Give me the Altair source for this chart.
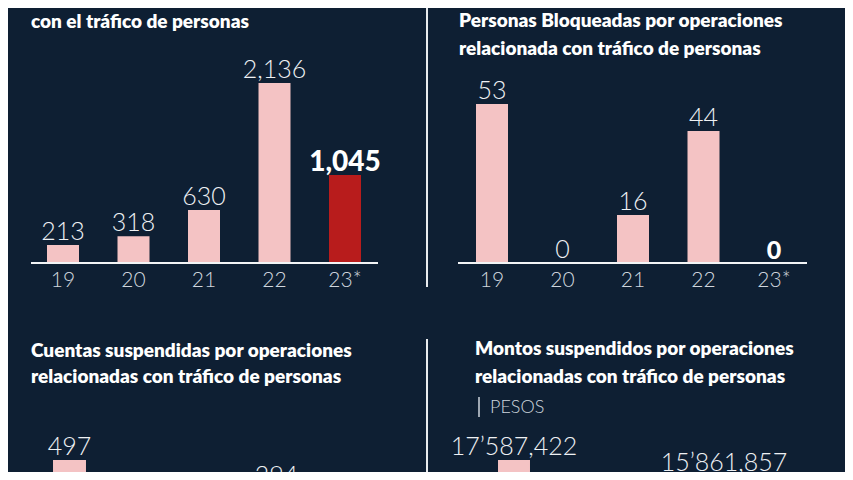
import altair as alt
import pandas as pd

BG = "#0e1f33"
PINK = "#f4c3c4"
RED = "#b81c1c"
TXT = "#eef1f4"
AXT = "#cfd6de"
TITLE_FONT = "Lato, 'Open Sans', sans-serif"
LIGHT_FONT = "Lato, 'Open Sans', sans-serif"
BOLD_FONT = "Lato, 'Open Sans', sans-serif"

years = ["19", "20", "21", "22", "23*"]

# Panel 1: reportes
rep_years = ["19", "20", "21", "22", "23*"]
rep_values = [213, 318, 630, 2136, 1045]
rep_kind = ["n", "n", "n", "n", "h"]
rep_title = ["con el tráfico de personas"]

# Panel 2: personas bloqueadas
blo_years = ["19", "20", "21", "22", "23*"]
blo_values = [53, 0, 16, 44, 0]
blo_kind = ["n", "n", "n", "n", "h"]
blo_title = ["Personas Bloqueadas por operaciones", "relacionada con tráfico de personas"]

# Panel 3: cuentas suspendidas (only visible bars)
cue_years = ["19", "22"]
cue_values = [497, 294]
cue_kind = ["n", "n"]
cue_title = ["Cuentas suspendidas por operaciones", "relacionadas con tráfico de personas"]

# Panel 4: montos suspendidos (only visible bars)
mon_years = ["19", "22"]
mon_values = [17587422, 15861857]
mon_kind = ["n", "n"]
mon_title = ["Montos suspendidos por operaciones", "relacionadas con tráfico de personas"]
mon_unit = "PESOS"


def fmt_plain(v):
    return f"{v:,}"


def fmt_money(v):
    parts = f"{v:,}".split(",")
    if len(parts) > 2:
        return parts[0] + "\u2019" + ",".join(parts[1:])
    return ",".join(parts)


def panel(yrs, vals, kinds, fmt, width, height, x_range, pad_inner, y_max, y_range,
          base_x, axis_y, title_lines, title_x, title_y0, line_h, hl_size,
          divider=None, show_axis=True):
    df = pd.DataFrame({"year": yrs, "value": vals, "kind": kinds,
                       "label": [fmt(v) for v in vals]})
    xenc = alt.X("year:N", sort=years,
                 scale=alt.Scale(domain=years, range=x_range, paddingInner=pad_inner,
                                 paddingOuter=pad_inner / 2),
                 axis=None)
    yenc = alt.Y("value:Q", scale=alt.Scale(domain=[0, y_max], range=y_range, nice=False),
                 axis=None)
    base = alt.Chart(df)
    layers = []
    bars = base.mark_bar(clip=True).encode(
        x=xenc, y=yenc,
        color=alt.Color("kind:N", scale=alt.Scale(domain=["n", "h"], range=[PINK, RED]),
                        legend=None),
    )
    layers.append(bars)
    lab_n = base.transform_filter(alt.datum.kind == "n").mark_text(
        clip=True, font=LIGHT_FONT, fontWeight=300, fontSize=25, color=TXT,
        baseline="alphabetic", dy=-5,
    ).encode(x=xenc, y=yenc, text="label:N")
    layers.append(lab_n)
    lab_h = base.transform_filter(alt.datum.kind == "h").mark_text(
        clip=True, font=BOLD_FONT, fontWeight=900, fontSize=hl_size, color="#ffffff",
        baseline="alphabetic", dy=-4,
    ).encode(x=xenc, y=yenc, text="label:N")
    layers.append(lab_h)
    rule = base.mark_rule(clip=True, color="#f2f4f6", strokeWidth=2).encode(
        x=alt.value(base_x[0]), x2=alt.value(base_x[1]), y=alt.datum(0)
    )
    layers.append(rule)
    if show_axis:
        ax = alt.Chart(pd.DataFrame({"year": years})).mark_text(
            clip=True, font=LIGHT_FONT, fontWeight=300, fontSize=21, color=AXT,
            baseline="alphabetic",
        ).encode(x=xenc, y=alt.value(axis_y), text="year:N")
        layers.append(ax)
    for i, line in enumerate(title_lines):
        t = alt.Chart(pd.DataFrame({"t": [line]})).mark_text(
            clip=True, font=TITLE_FONT, fontWeight=800, fontSize=19, color="#ffffff",
            align="left", baseline="alphabetic",
        ).encode(x=alt.value(title_x), y=alt.value(title_y0 + i * line_h), text="t:N")
        layers.append(t)
    if divider is not None:
        d = alt.Chart(pd.DataFrame({"a": [0]})).mark_rule(
            clip=True, color="#e8ebee", strokeWidth=2).encode(
            x=alt.value(divider[0]), y=alt.value(divider[1]), y2=alt.value(divider[2])
        )
        layers.append(d)
    return alt.layer(*layers).properties(width=width, height=height)


TOP_H = 292
BOT_H = 172
LEFT_W = 420
RIGHT_W = 417

tl = panel(rep_years, rep_values, rep_kind, fmt_plain, LEFT_W, TOP_H,
           [19.75, 372.25], 0.546, 2136, [255, 75],
           (23, 370), 279, rep_title, 23, 20, 28, 28,
           divider=(419, 0, 279))

tr = panel(blo_years, blo_values, blo_kind, fmt_plain, RIGHT_W, TOP_H,
           [28.75, 381.25], 0.546, 53, [255, 96],
           (30, 379), 279, blo_title, 31, 19, 28, 25)

bl = panel(cue_years, cue_values, cue_kind, fmt_plain, LEFT_W, BOT_H,
           [27, 372], 0.522, 497, [231, 160],
           (23, 370), 400, cue_title, 23, 57, 26, 28,
           divider=(419, 39, BOT_H), show_axis=False)

br_core = panel(mon_years, mon_values, mon_kind, fmt_money, RIGHT_W, BOT_H,
                [51, 401], 0.543, 17587422, [323, 160],
                (30, 400), 400, mon_title, 47, 55, 28, 28, show_axis=False)

unit_txt = alt.Chart(pd.DataFrame({"t": [mon_unit]})).mark_text(
    clip=True, font=LIGHT_FONT, fontWeight=300, fontSize=18, color=AXT, align="left",
    baseline="alphabetic"
).encode(x=alt.value(62), y=alt.value(113), text="t:N")
unit_bar = alt.Chart(pd.DataFrame({"a": [0]})).mark_rule(
    clip=True, color=AXT, strokeWidth=1.5).encode(
    x=alt.value(51), y=alt.value(97), y2=alt.value(117)
)
br = alt.layer(br_core, unit_txt, unit_bar).properties(width=RIGHT_W, height=BOT_H)

chart = alt.vconcat(
    alt.hconcat(tl, tr, spacing=0),
    alt.hconcat(bl, br, spacing=0),
    spacing=0,
).configure(background=BG, padding=0).configure_view(stroke=None)

chart.save("out.html", embed_options={"renderer": "svg", "actions": False})
